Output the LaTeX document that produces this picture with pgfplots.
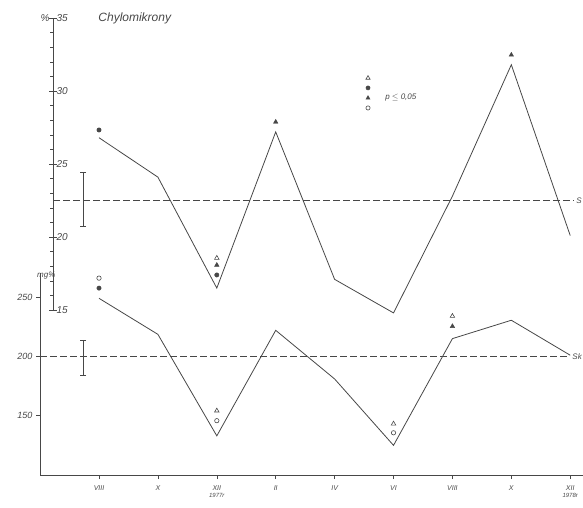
\documentclass[border=0pt]{standalone}
\usepackage{pgfplots}
\pgfplotsset{compat=1.18}
\usepackage{fontspec}
\setmainfont{Liberation Sans}
\begin{document}
\begin{tikzpicture}[x=1pt,y=1pt]
\colorlet{ink}{black!72}
\useasboundingbox (0,0) rectangle (583,507);
% ---------------- lower panel (mg%) ----------------
\begin{axis}[
  at={(40pt,32pt)}, anchor=south west, scale only axis,
  width=543pt, height=201.6pt,
  xmin=-1.0017, xmax=8.217, ymin=100, ymax=270,
  axis x line=bottom, axis y line=left,
  axis line style={ink, line width=0.6pt, -},
  xtick={0,...,8},
  xticklabels={VIII, X, {XII\\[-1pt]{\fontsize{6}{7}\selectfont 1977r}}, II, IV, VI, VIII, X, {XII\\[-1pt]{\fontsize{6}{7}\selectfont 1978r}}},
  xticklabel style={font=\itshape\fontsize{7}{8}\selectfont, align=center, text=ink, anchor=north, yshift=-3pt},
  ytick={150,200,250},
  yticklabel style={font=\itshape\fontsize{9}{10}\selectfont, text=ink},
  /pgf/number format/assume math mode=true,
  tick align=outside, major tick length=4pt,
  tick style={ink, line width=0.5pt},
  clip=false,
]
\addplot[ink, line width=0.8pt] coordinates {(0,249) (1,218.6) (2,133) (3,222) (4,181) (5,125) (6,215) (7,230.5) (8,201)};
\addplot[ink, line width=0.6pt, dash pattern=on 7pt off 3pt] coordinates {(-1.0,200) (7.98,200)};
% standard deviation bar
\addplot[ink, line width=0.6pt, mark=-, mark size=3pt] coordinates {(-0.27,184) (-0.27,214)};
% markers
\addplot[only marks, mark=o, mark size=2.2pt, ink, line width=0.6pt] coordinates {(0,266) (2,145.8) (5,135.6)};
\addplot[only marks, mark=*, mark size=2.2pt, ink, mark options={fill=ink}] coordinates {(0,257.6)};
\addplot[only marks, mark=triangle, mark size=2.6pt, ink, line width=0.6pt] coordinates {(2,154.2) (5,143.2) (6,234)};
\addplot[only marks, mark=triangle*, mark size=2.6pt, ink, mark options={fill=ink}] coordinates {(6,225.4)};
\node[anchor=east, font=\itshape\fontsize{8}{9}\selectfont, text=ink] at (rel axis cs:0.035,0.99) {mg\%};
\node[anchor=east, font=\itshape\fontsize{8}{9}\selectfont, text=ink, inner sep=1pt] at (rel axis cs:1,0.588) {Sk};
\end{axis}
% ---------------- upper panel (%) ----------------
\begin{axis}[
  at={(53pt,197pt)}, anchor=south west, scale only axis,
  width=530pt, height=292pt,
  xmin=-0.781, xmax=8.217, ymin=15, ymax=35,
  axis x line=none, axis y line=left,
  axis line style={ink, line width=0.6pt, -},
  xtick=\empty,
  ytick={15,20,...,35}, minor ytick={16,...,34},
  yticklabel style={font=\itshape\fontsize{10}{11}\selectfont, text=ink, anchor=west, xshift=4pt},
  /pgf/number format/assume math mode=true,
  tick align=center, major tick length=8pt, minor tick length=3pt,
  tick style={ink, line width=0.5pt},
  minor tick style={xshift=-1.5pt},
  clip=false,
]
\addplot[ink, line width=0.8pt] coordinates {(0,26.8) (1,24.1) (2,16.5) (3,27.2) (4,17.1) (5,14.8) (6,22.8) (7,31.8) (8,20.1)};
\addplot[ink, line width=0.6pt, dash pattern=on 7pt off 3pt] coordinates {(-0.781,22.5) (8.05,22.5)};
% standard deviation bar
\addplot[ink, line width=0.6pt, mark=-, mark size=3pt] coordinates {(-0.27,20.7) (-0.27,24.4)};
% markers
\addplot[only marks, mark=*, mark size=2.2pt, ink, mark options={fill=ink}] coordinates {(0,27.33) (2,17.40)};
\addplot[only marks, mark=triangle, mark size=2.6pt, ink, line width=0.6pt] coordinates {(2,18.56)};
\addplot[only marks, mark=triangle*, mark size=2.6pt, ink, mark options={fill=ink}] coordinates {(2,18.08) (3,27.88) (7,32.47)};
% legend of symbols
\addplot[only marks, mark=triangle, mark size=2.4pt, ink, line width=0.6pt] coordinates {(4.567,30.89)};
\addplot[only marks, mark=*, mark size=2.1pt, ink, mark options={fill=ink}] coordinates {(4.567,30.21)};
\addplot[only marks, mark=triangle*, mark size=2.4pt, ink, mark options={fill=ink}] coordinates {(4.567,29.52)};
\addplot[only marks, mark=o, mark size=2.1pt, ink, line width=0.6pt] coordinates {(4.567,28.84)};
\node[anchor=west, font=\itshape\fontsize{8}{9}\selectfont, text=ink] at (axis cs:4.80,29.52) {p $\leq$ 0,05};
\node[anchor=west, font=\itshape\fontsize{12}{13}\selectfont, text=ink] at (axis cs:-0.07,35) {Chylomikrony};
\node[anchor=east, font=\itshape\fontsize{10}{11}\selectfont, text=ink] at (axis cs:-0.781,35) {\%};
\node[anchor=east, font=\itshape\fontsize{8}{9}\selectfont, text=ink, inner sep=1pt] at (rel axis cs:1,0.375) {S};
\end{axis}
\end{tikzpicture}
\end{document}
